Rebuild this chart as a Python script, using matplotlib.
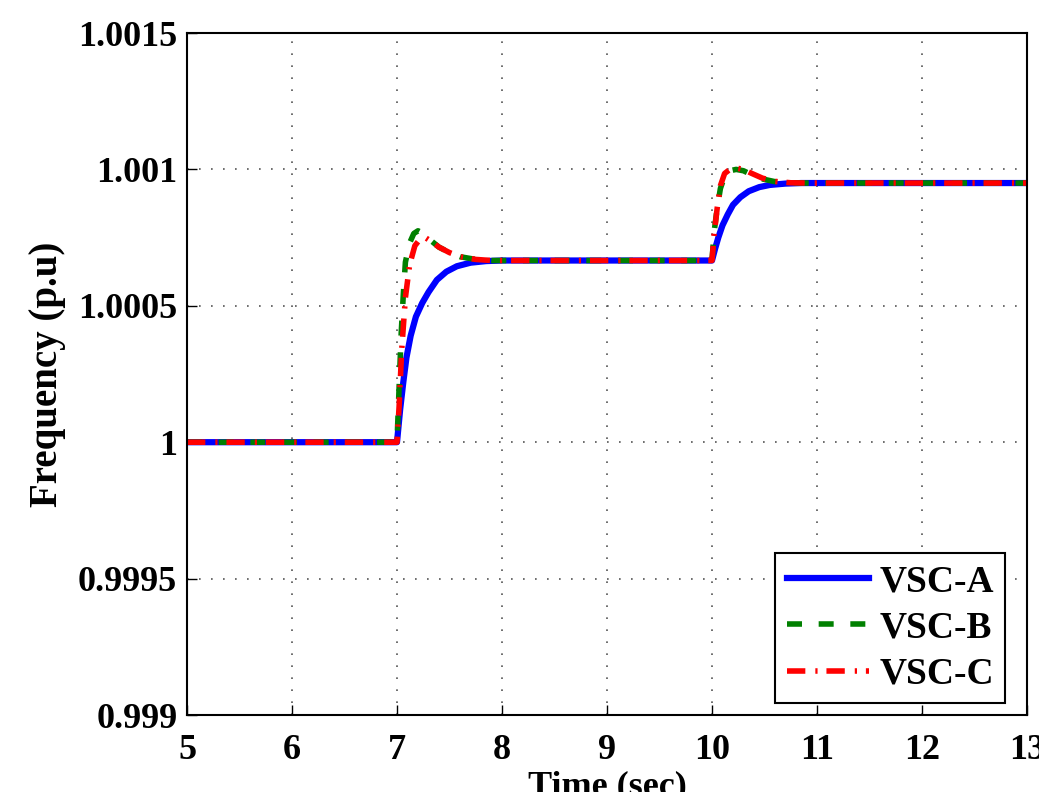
import matplotlib.pyplot as plt

plt.rcParams['font.family'] = ['Liberation Serif', 'DejaVu Serif']
plt.rcParams['font.weight'] = 'bold'

# frequency deviation above 1 p.u., in units of 1e-4
t_a = [5, 7.0, 7.03, 7.06, 7.09, 7.13, 7.18, 7.24, 7.3, 7.38, 7.47, 7.57, 7.7, 7.85, 8.0,
       10.0, 10.03, 10.06, 10.1, 10.15, 10.2, 10.27, 10.35, 10.45, 10.55, 10.7, 10.85, 11.0, 13]
f_a = [0, 0, 1.2, 2.2, 3.1, 3.9, 4.6, 5.1, 5.5, 5.95, 6.25, 6.45, 6.58, 6.64, 6.66,
       6.66, 7.1, 7.5, 7.95, 8.35, 8.7, 8.98, 9.2, 9.35, 9.43, 9.48, 9.5, 9.5, 9.5]

t_b = [5, 7.0, 7.02, 7.04, 7.06, 7.08, 7.12, 7.16, 7.2, 7.25, 7.32, 7.4, 7.5, 7.6, 7.75, 7.9,
       10.0, 10.02, 10.05, 10.08, 10.12, 10.17, 10.23, 10.3, 10.38, 10.48, 10.6, 10.75, 10.9, 13]
f_b = [0, 0, 2.0, 4.0, 5.4, 6.6, 7.3, 7.65, 7.75, 7.65, 7.4, 7.15, 6.95, 6.8, 6.7, 6.66,
       6.66, 7.7, 8.6, 9.3, 9.75, 9.95, 10.0, 9.95, 9.8, 9.65, 9.55, 9.51, 9.5, 9.5]

t_c = [5, 7.0, 7.02, 7.045, 7.08, 7.12, 7.17, 7.22, 7.27, 7.33, 7.4, 7.5, 7.6, 7.75, 7.9,
       10.0, 10.02, 10.05, 10.08, 10.12, 10.17, 10.23, 10.3, 10.38, 10.48, 10.6, 10.75, 10.9, 13]
f_c = [0, 0, 1.3, 3.4, 5.3, 6.5, 7.2, 7.45, 7.5, 7.35, 7.15, 6.95, 6.8, 6.7, 6.66,
       6.66, 7.6, 8.6, 9.4, 9.85, 10.0, 10.05, 10.0, 9.85, 9.68, 9.56, 9.51, 9.5, 9.5]

labels = ['VSC-A', 'VSC-B', 'VSC-C']
xticks = [5, 6, 7, 8, 9, 10, 11, 12, 13]
yticks = [0.999, 0.9995, 1, 1.0005, 1.001, 1.0015]
ytick_labels = ['0.999', '0.9995', '1', '1.0005', '1.001', '1.0015']

fig = plt.figure(figsize=(10.39, 7.92), dpi=100)
ax = fig.add_axes([187/1039, 1 - 715/792, 840/1039, 682/792])

ax.plot(t_a, [1 + v*1e-4 for v in f_a], color='#0000ff', lw=4.5, label=labels[0])
ax.plot(t_b, [1 + v*1e-4 for v in f_b], color='#008000', lw=4, dashes=(2.7, 3.0), label=labels[1])
ax.plot(t_c, [1 + v*1e-4 for v in f_c], color='#ff0000', lw=4,
        dashes=(3.3, 1.8, 0.4, 1.6), label=labels[2])

ax.set_xlim(5, 13)
ax.set_ylim(0.999, 1.0015)
ax.set_xticks(xticks)
ax.set_xticklabels([str(x) for x in xticks])
ax.set_yticks(yticks)
ax.set_yticklabels(ytick_labels)
ax.tick_params(direction='in', length=7, width=1, labelsize=26, pad=7)
ax.tick_params(axis='x', pad=14)
ax.grid(True, color='#555555', linestyle=(0, (1, 6.2)), linewidth=1.2)
for s in ax.spines.values():
    s.set_linewidth(1.5)

ax.set_xlabel('Time (sec)', fontsize=26, fontweight='bold', labelpad=2)
ax.set_ylabel('Frequency (p.u)', fontsize=28, fontweight='bold', labelpad=9)

leg = ax.legend(loc='lower right', bbox_to_anchor=(0.974, 0.0176), borderaxespad=0,
                fontsize=27, fancybox=False, edgecolor='black', framealpha=1,
                handlelength=2.2, labelspacing=0.3, borderpad=0.3, handletextpad=0.27)
leg.get_frame().set_linewidth(1.5)

fig.savefig('out.png', dpi=100)
